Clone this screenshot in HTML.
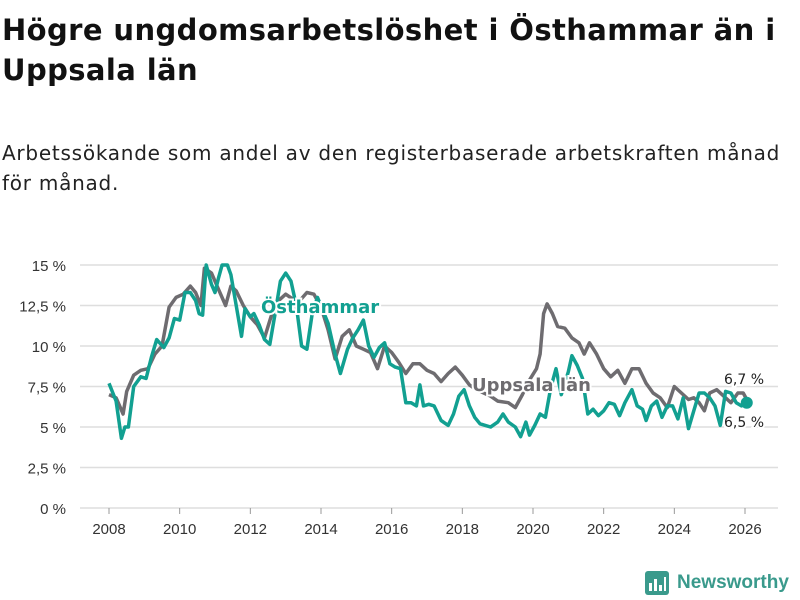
<!DOCTYPE html>
<html><head><meta charset="utf-8"><style>
body{margin:0;width:800px;height:600px;background:#fff;font-family:"Liberation Sans","DejaVu Sans",sans-serif;overflow:hidden;position:relative}
h1{position:absolute;left:2px;top:10px;margin:0;font-family:"DejaVu Sans",sans-serif;font-size:29px;line-height:40px;font-weight:bold;color:#111;width:798px;white-space:nowrap;letter-spacing:0.4px}
.sub{position:absolute;left:2px;top:138px;font-family:"DejaVu Sans",sans-serif;font-size:20px;line-height:30px;color:#222;width:798px;white-space:nowrap;letter-spacing:0.75px}
svg{position:absolute;left:0;top:0}
</style></head><body>
<h1>Högre ungdomsarbetslöshet i Östhammar än i<br>Uppsala län</h1>
<div class="sub">Arbetssökande som andel av den registerbaserade arbetskraften månad<br>för månad.</div>
<svg id="c" width="800" height="600"></svg>
<script>
const yTicks=[0,2.5,5,7.5,10,12.5,15];
const yTickLabels=["0 %","2,5 %","5 %","7,5 %","10 %","12,5 %","15 %"];
const xTicks=[2008,2010,2012,2014,2016,2018,2020,2022,2024,2026];
const uppsalaT=[2008.0,2008.2,2008.4,2008.5,2008.7,2008.9,2009.1,2009.3,2009.5,2009.7,2009.9,2010.1,2010.3,2010.45,2010.6,2010.7,2010.9,2011.1,2011.3,2011.45,2011.6,2011.8,2012.0,2012.2,2012.4,2012.6,2012.8,2013.0,2013.2,2013.4,2013.6,2013.8,2014.0,2014.2,2014.4,2014.6,2014.8,2015.0,2015.2,2015.4,2015.6,2015.8,2016.0,2016.2,2016.4,2016.6,2016.8,2017.0,2017.2,2017.4,2017.6,2017.8,2018.0,2018.2,2018.4,2018.8,2019.0,2019.3,2019.5,2019.7,2019.9,2020.1,2020.2,2020.3,2020.4,2020.55,2020.7,2020.9,2021.1,2021.3,2021.45,2021.6,2021.8,2022.0,2022.2,2022.4,2022.6,2022.8,2023.0,2023.2,2023.4,2023.6,2023.8,2024.0,2024.2,2024.4,2024.55,2024.7,2024.85,2025.0,2025.2,2025.4,2025.6,2025.8,2025.95,2026.05];
const uppsalaV=[7.0,6.8,5.8,7.2,8.2,8.5,8.6,9.5,10.0,12.4,13.0,13.2,13.7,13.3,12.5,14.8,14.5,13.5,12.5,13.7,13.4,12.5,11.8,11.3,10.5,11.9,12.8,13.2,12.9,12.8,13.3,13.2,12.4,11.0,9.2,10.6,11.0,10.0,9.8,9.6,8.6,10.0,9.6,9.0,8.3,8.9,8.9,8.5,8.3,7.8,8.3,8.7,8.2,7.6,7.3,6.9,6.6,6.5,6.2,7.0,7.9,8.6,9.5,12.0,12.6,12.0,11.2,11.1,10.5,10.2,9.5,10.2,9.5,8.6,8.1,8.5,7.7,8.6,8.6,7.7,7.1,6.8,6.2,7.5,7.1,6.7,6.8,6.5,6.0,7.1,7.3,6.9,6.5,7.1,7.1,6.7];
const osthT=[2008.0,2008.2,2008.35,2008.45,2008.55,2008.7,2008.9,2009.05,2009.2,2009.35,2009.55,2009.7,2009.85,2010.0,2010.15,2010.3,2010.45,2010.55,2010.65,2010.75,2010.9,2011.0,2011.1,2011.2,2011.35,2011.45,2011.6,2011.75,2011.85,2012.0,2012.1,2012.25,2012.4,2012.55,2012.7,2012.85,2013.0,2013.15,2013.3,2013.45,2013.6,2013.75,2013.9,2014.2,2014.4,2014.55,2014.75,2014.9,2015.05,2015.2,2015.35,2015.5,2015.65,2015.8,2015.95,2016.1,2016.25,2016.4,2016.55,2016.7,2016.8,2016.9,2017.05,2017.2,2017.4,2017.6,2017.75,2017.9,2018.05,2018.2,2018.35,2018.5,2018.65,2018.8,2019.0,2019.15,2019.3,2019.5,2019.65,2019.8,2019.9,2020.05,2020.2,2020.35,2020.5,2020.65,2020.8,2021.0,2021.1,2021.25,2021.4,2021.55,2021.7,2021.85,2022.0,2022.15,2022.3,2022.45,2022.6,2022.8,2022.95,2023.1,2023.2,2023.35,2023.5,2023.65,2023.8,2023.95,2024.1,2024.25,2024.4,2024.55,2024.7,2024.85,2025.0,2025.15,2025.3,2025.45,2025.6,2025.75,2025.9,2026.05];
const osthV=[7.7,6.6,4.3,5.0,5.0,7.5,8.1,8.0,9.3,10.4,9.9,10.5,11.7,11.6,13.3,13.3,12.8,12.0,11.9,15.0,13.8,13.3,14.2,15.0,15.0,14.4,12.5,10.6,12.3,11.8,12.0,11.3,10.4,10.1,12.0,14.0,14.5,14.0,12.5,10.0,9.8,12.0,13.0,11.4,9.5,8.3,9.8,10.5,11.0,11.6,10.0,9.3,9.9,10.2,8.9,8.7,8.6,6.5,6.5,6.3,7.6,6.3,6.4,6.3,5.4,5.1,5.8,6.9,7.3,6.3,5.6,5.2,5.1,5.0,5.3,5.8,5.3,5.0,4.4,5.3,4.5,5.1,5.8,5.6,7.4,8.6,7.0,8.4,9.4,8.8,8.0,5.8,6.1,5.7,6.0,6.5,6.4,5.7,6.5,7.3,6.3,6.1,5.4,6.3,6.6,5.6,6.3,6.3,5.5,6.8,4.9,6.0,7.1,7.1,6.8,6.3,5.1,7.2,7.1,6.5,6.3,6.5];
const NS="http://www.w3.org/2000/svg",svg=document.getElementById('c');
const X=t=>109+(t-2008)*(745-109)/18, Y=v=>508-v*(508-265)/15;
function mk(tag,at,txt){const e=document.createElementNS(NS,tag);for(const k in at)e.setAttribute(k,at[k]);if(txt!=null)e.textContent=txt;svg.appendChild(e);return e;}
yTicks.forEach((v,i)=>{
 const g=mk('line',{x1:80,x2:778,y1:Y(v),y2:Y(v),stroke:'#dedede','stroke-width':1.5});
 
 
 const l=mk('text',{x:66,y:Y(v)+6,'text-anchor':'end','font-size':15,fill:'#333'},yTickLabels[i]);
 
 
});
xTicks.forEach(t=>{
 const k=mk('line',{x1:X(t),x2:X(t),y1:508,y2:514,stroke:'#999'});
 
 
 const l=mk('text',{x:X(t),y:534,'text-anchor':'middle','font-size':15,fill:'#333'},String(t));
 
 
});
function line(T,V,col,name){
 const d=T.map((t,i)=>(i?'L':'M')+X(t).toFixed(1)+','+Y(V[i]).toFixed(1)).join('');
 const p=mk('path',{d:d,fill:'none',stroke:col,'stroke-width':3.5,'stroke-linejoin':'round'});
 
 
}
line(uppsalaT,uppsalaV,'#6e6c70','uppsala-line');
line(osthT,osthV,'#12a091','osthammar-line');
const dot=mk('circle',{cx:X(osthT[osthT.length-1]),cy:Y(osthV[osthV.length-1]),r:6,fill:'#12a091'});


function lab(x,y,txt,col,name,size,weight,anchor){
 const t=mk('text',{x:x,y:y,'font-size':size,'font-weight':weight,fill:col,stroke:'#fff','stroke-width':4,'paint-order':'stroke','text-anchor':anchor||'start','font-family':'DejaVu Sans, sans-serif'},txt);
 
 
}
lab(261,313,'Östhammar','#12a091','osthammar-label',18,'bold');
lab(472,391,'Uppsala län','#6e6c70','uppsala-label',18,'bold');
lab(724,384,'6,7 %','#222','uppsala-end-value',14,'normal');
lab(724,427,'6,5 %','#222','osthammar-end-value',14,'normal');
</script>
<div style="position:absolute;left:645px;top:570px;height:26px;display:flex;align-items:center">
<svg width="24" height="24" style="position:static"><rect x="0" y="0" width="24" height="24" rx="3" fill="#3a9a8c"/><rect x="4" y="12" width="3" height="8" fill="#fff"/><rect x="9" y="8" width="3" height="12" fill="#fff"/><rect x="14" y="14" width="3" height="6" fill="#fff"/><rect x="19" y="6" width="2" height="14" fill="#fff"/></svg>
<span style="margin-left:8px;font-size:19px;font-weight:bold;color:#3a9a8c">Newsworthy</span></div>
</body></html>
